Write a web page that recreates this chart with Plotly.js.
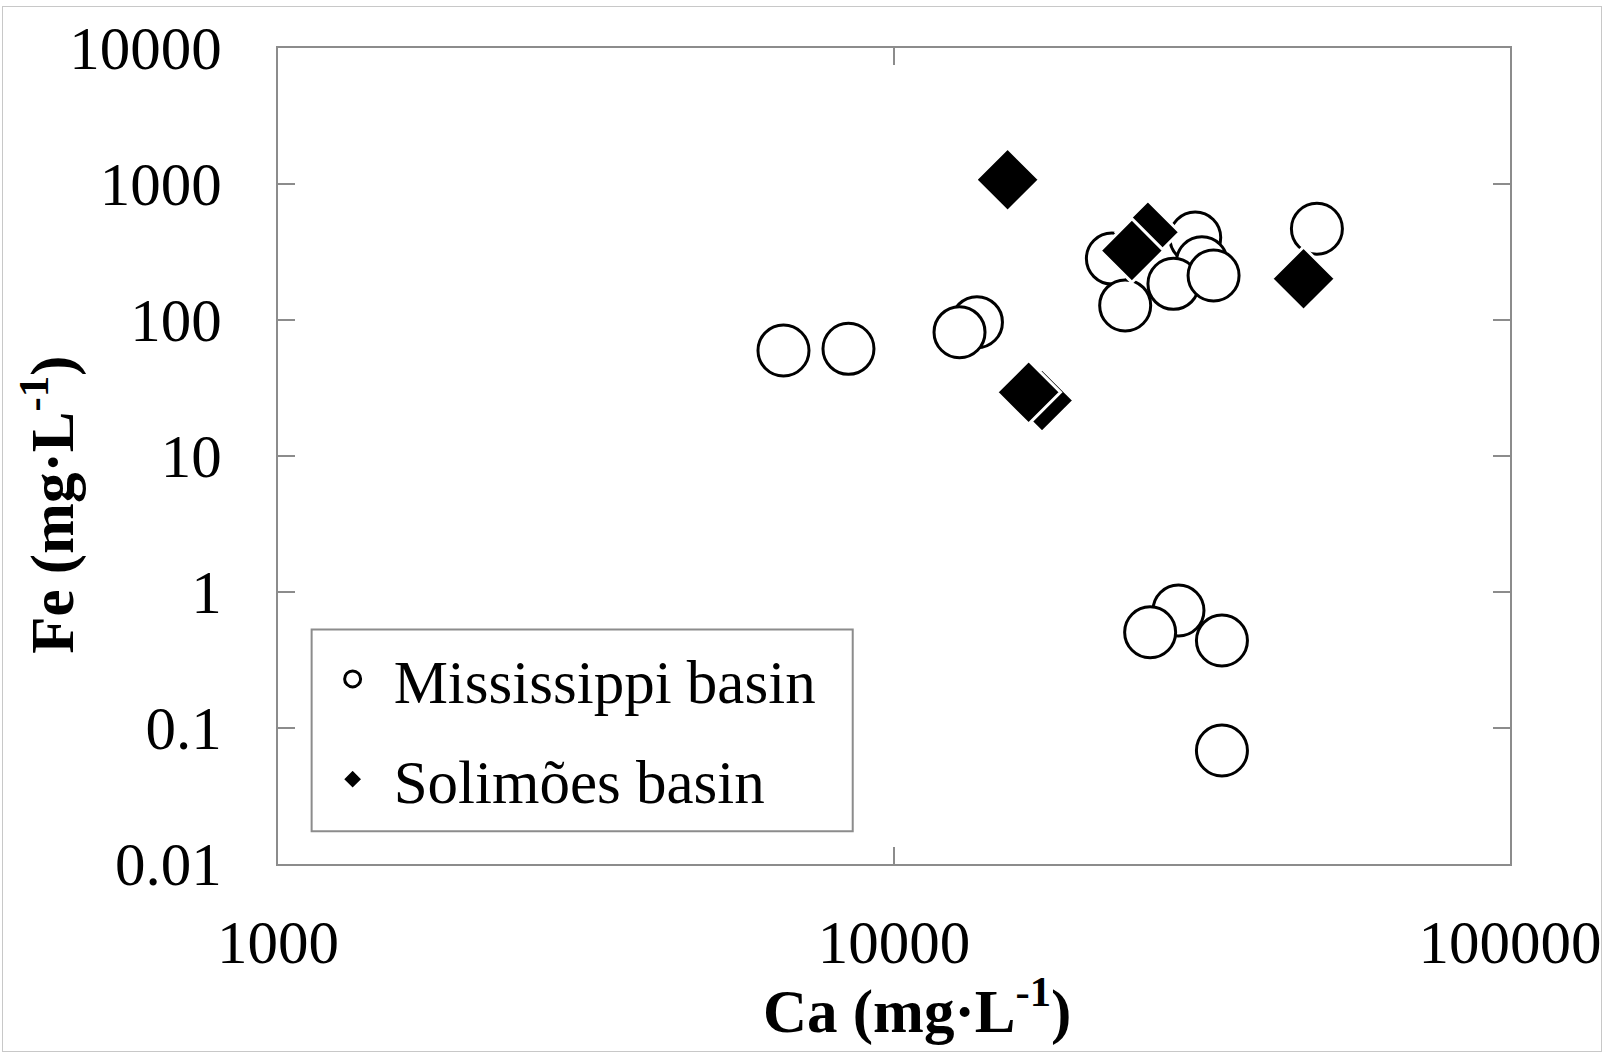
<!DOCTYPE html>
<html>
<head>
<meta charset="utf-8">
<script src="https://cdn.plot.ly/plotly-3.0.1.min.js"></script>
<style>
  html, body { margin: 0; padding: 0; background: #fff; }
  #frame { position: absolute; left: 2px; top: 6px; width: 1600px; height: 1046px; border: 1px solid #c8c8c8; box-sizing: border-box; pointer-events: none; z-index: 5; }
  #chart { position: absolute; left: 0; top: 0; width: 1607px; height: 1056px; }
</style>
</head>
<body>
<div id="chart"></div>
<div id="frame"></div>
<script>
// Mississippi basin (Ca, Fe) in mg·L-1
const missCa = [6616, 8435, 13635, 12775, 22580, 23730, 30830, 31610, 28420, 33020, 48590, 28960, 26050, 34070, 34070];
const missFe = [59.7, 61.4, 96.4, 81.4, 283, 128, 404, 266, 184.5, 212.5, 469, 0.731, 0.506, 0.44, 0.0683];
// Solimões basin
const solCa = [15290, 17390, 16540, 25830, 24330, 46220];
const solFe = [1074, 25.6, 29.4, 442, 324, 201];

const xTickVals = [1000, 10000, 100000];
const xTickText = ['1000', '10000', '100000'];
const yTickVals = [0.01, 0.1, 1, 10, 100, 1000, 10000];
const yTickText = ['0.01', '0.1', '1', '10', '100', '1000', '10000'];

const serif = 'Liberation Serif, Times New Roman, serif';
const FS = 61;

const traces = [
  {
    x: missCa, y: missFe, mode: 'markers', type: 'scatter', name: 'Mississippi basin',
    legendgroup: 'a',
    marker: { symbol: 'circle', size: 51, color: '#ffffff', line: { color: '#000000', width: 3 } },
    hoverinfo: 'skip'
  },
  {
    x: solCa, y: solFe, mode: 'markers', type: 'scatter', name: 'Solimões basin',
    legendgroup: 'b',
    marker: { symbol: 'diamond', size: 49, color: '#000000', line: { color: '#ffffff', width: 3 } },
    hoverinfo: 'skip'
  }
];

const axisCommon = {
  showgrid: false, zeroline: false, showline: true, linecolor: '#8c8c8c', linewidth: 2,
  mirror: 'ticks', ticks: 'inside', ticklen: 17, tickwidth: 2, tickcolor: '#8c8c8c',
  tickfont: { family: serif, size: FS, color: '#000' }
};

const layout = {
  width: 1607, height: 1056,
  paper_bgcolor: '#ffffff', plot_bgcolor: '#ffffff',
  margin: { l: 278, r: 97, t: 48, b: 192, pad: 0 },
  showlegend: true,
  xaxis: Object.assign({}, axisCommon, {
    type: 'log', range: [3, 5], tickmode: 'array', tickvals: xTickVals, ticktext: xTickText,
    ticklabelstandoff: 24
  }),
  yaxis: Object.assign({}, axisCommon, {
    type: 'log', range: [-2, 4], tickmode: 'array', tickvals: yTickVals, ticktext: yTickText,
    ticklabelstandoff: 42
  }),
  legend: {
    x: 0.0273, y: 0.2834, xanchor: 'left', yanchor: 'top',
    bgcolor: 'rgba(0,0,0,0)', borderwidth: 0,
    font: { family: serif, size: FS, color: '#000' },
    traceorder: 'grouped', tracegroupgap: 18, itemsizing: 'trace', itemwidth: 72
  },
  shapes: [
    { type: 'rect', xref: 'paper', yref: 'paper', x0: 0.0273, x1: 0.4665, y0: 0.0402, y1: 0.2874,
      line: { color: '#8c8c8c', width: 2 }, fillcolor: 'rgba(0,0,0,0)', layer: 'above' }
  ],
  annotations: [
    { text: '<b>Ca (mg·L<sup>-1</sup>)</b>', xref: 'paper', yref: 'paper', x: 0.519, y: -0.175,
      xanchor: 'center', yanchor: 'middle', showarrow: false,
      font: { family: serif, size: FS, color: '#000' } },
    { text: '<b>Fe (mg·L<sup>-1</sup>)</b>', xref: 'paper', yref: 'paper', x: -0.186, y: 0.44,
      xanchor: 'center', yanchor: 'middle', showarrow: false, textangle: -90,
      font: { family: serif, size: FS, color: '#000' } }
  ],
  hovermode: false
};

Plotly.newPlot('chart', traces, layout, { displayModeBar: false, staticPlot: true });
</script>
</body>
</html>
